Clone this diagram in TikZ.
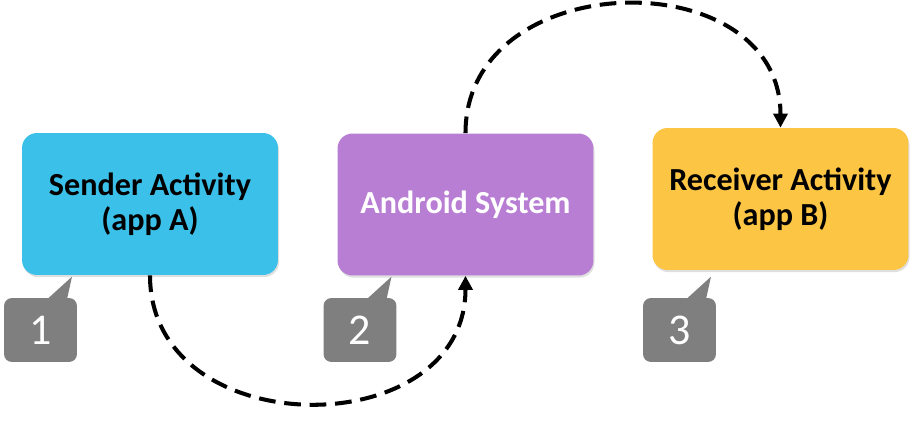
\documentclass[tikz,border=0pt]{standalone}
\usepackage{fontspec}
\setmainfont{Carlito}
\usetikzlibrary{arrows.meta,shadows}
\definecolor{senderblue}{HTML}{3BC1E9}
\definecolor{androidpurple}{HTML}{B87ED4}
\definecolor{receiveryellow}{HTML}{FDC544}
\definecolor{calloutgray}{HTML}{7F7F7F}
\begin{document}
\begin{tikzpicture}[x=0.02cm, y=-0.02cm,
		activity/.style={rounded corners=0.3cm, minimum width=5.12cm, minimum height=2.84cm,
			align=center, font=\fontsize{18.3}{20}\selectfont\bfseries,
			drop shadow={opacity=0.25, shadow xshift=0.6pt, shadow yshift=-1.2pt}},
		callnum/.style={rounded corners=0.16cm, fill=calloutgray, text=white,
			minimum width=1.46cm, minimum height=1.28cm, font=\fontsize{25}{28}\selectfont},
		calltail/.style={fill=calloutgray},
		flow/.style={line width=2.3pt, dash pattern=on 9.5pt off 5pt,
			-{Triangle[length=8pt, width=8pt]}}
		]
	\useasboundingbox (0,0) rectangle (921,423);
	\node [activity, fill=senderblue] (sender) at (150,204) {Sender Activity\\(app A)};
	\node [activity, fill=androidpurple, text=white] (android) at (465.5,204.5) {Android System};
	\node [activity, fill=receiveryellow] (receiver) at (780.5,199) {Receiver Activity\\(app B)};

	\node [callnum] (n1) at (40.5,330) {1};
	\node [callnum] (n2) at (360,330) {2};
	\node [callnum] (n3) at (679.5,330) {3};
	\foreach \n in {n1,n2,n3}
		\fill [calltail] ([xshift=0.13cm,yshift=-1pt]\n.north) -- ([xshift=0.63cm,yshift=0.42cm]\n.north)
			-- ([xshift=0.53cm,yshift=-1pt]\n.north) -- cycle;

	\draw [flow] (sender.south) .. controls +(0,170) and +(0,170) .. (android.south);
	\draw [flow] (android.north) .. controls +(0,-168) and +(0,-168) .. (receiver.north);
\end{tikzpicture}
\end{document}
